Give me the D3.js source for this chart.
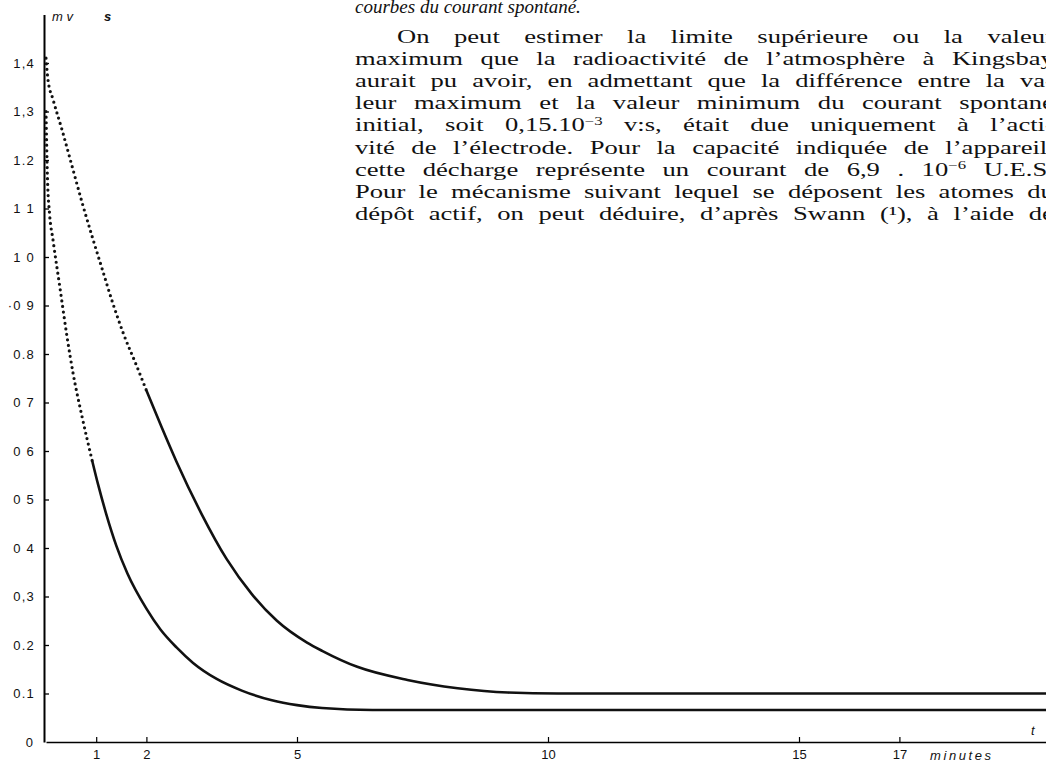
<!DOCTYPE html>
<html>
<head>
<meta charset="utf-8">
<script src="https://cdn.jsdelivr.net/npm/d3@7"></script>
<style>
    body { margin: 0; background: #fff; }
    .axe-label { font-family: 'Liberation Sans', 'DejaVu Sans', sans-serif; font-size: 13px; fill: #111; }
    .page-text { font-family: 'Liberation Serif', 'DejaVu Serif', serif; font-size: 19px; fill: #111; }
</style>
</head>
<body>
<svg class="chart"></svg>
<script>
const width = 1046
const height = 761

// time in minutes, values in mv:s
const upperTime = [0, 0.04, 0.14, 0.32, 0.52, 0.72, 0.92, 1.12, 1.33, 1.55, 1.8, 2.0, 2.3, 2.6, 3.1, 3.6, 4.1, 4.6, 5.2, 5.5, 6.2, 7.2, 8.2, 9.2, 10.2, 14, 20]
const upperValues = [1.41, 1.365, 1.325, 1.262, 1.187, 1.112, 1.042, 0.975, 0.905, 0.84, 0.777, 0.725, 0.65, 0.578, 0.47, 0.377, 0.305, 0.25, 0.205, 0.188, 0.155, 0.128, 0.111, 0.102, 0.1, 0.1, 0.1]
const upperDottedUntil = 2.0

const lowerTime = [0, 0.03, 0.07, 0.14, 0.28, 0.42, 0.54, 0.72, 0.92, 1.04, 1.2, 1.4, 1.62, 2.0, 2.28, 2.6, 2.93, 3.4, 3.9, 4.5, 5.0, 5.5, 6.5, 8, 10, 14, 20]
const lowerValues = [1.30, 1.16, 1.09, 1.035, 0.935, 0.835, 0.76, 0.67, 0.58, 0.53, 0.47, 0.405, 0.348, 0.275, 0.232, 0.195, 0.163, 0.13, 0.106, 0.086, 0.076, 0.07, 0.066, 0.066, 0.066, 0.066, 0.066]
const lowerDottedUntil = 0.92

const yTicks = [0.1, 0.2, 0.3, 0.4, 0.5, 0.6, 0.7, 0.8, 0.9, 1.0, 1.1, 1.2, 1.3, 1.4]
const yTickLabels = ['0.1', '0.2', '0,3', '0 4', '0 5', '0 6', '0 7', '0.8', '·0 9', '1 0', '1 1', '1.2', '1,3', '1,4']
const xTicks = [1, 2, 5, 10, 15, 17]
const xTickLabels = ['1', '2', '5', '10', '15', '17']

// ^...^ marks a superscript
const pageLines = [
    'On peut estimer la limite supérieure ou la valeur',
    'maximum que la radioactivité de l’atmosphère à Kingsbay',
    'aurait pu avoir, en admettant que la différence entre la va-',
    'leur maximum et la valeur minimum du courant spontané',
    'initial, soit 0,15.10^−3^ v:s, était due uniquement à l’acti-',
    'vité de l’électrode. Pour la capacité indiquée de l’appareil,',
    'cette décharge représente un courant de 6,9 . 10^−6^ U.E.S.',
    'Pour le mécanisme suivant lequel se déposent les atomes du',
    'dépôt actif, on peut déduire, d’après Swann (¹), à l’aide de'
]
const captionEnd = 'courbes du courant spontané.'

const svg = d3.select('.chart').attr('width', width).attr('height', height)

const x = d3.scaleLinear().domain([0, 20]).range([46, 1050])
const y = d3.scaleLinear().domain([0, 1.5]).range([742, 14.5])

const drawAxes = () => {
    const yAxis = svg.append('g')
        .attr('transform', `translate(${x(0) - 2},0)`)
        .call(d3.axisLeft(y)
            .tickValues(yTicks)
            .tickSize(-5)
            .tickSizeOuter(0)
            .tickPadding(9)
            .tickFormat((d, i) => yTickLabels[i]))
    yAxis.select('.domain').attr('stroke-width', 2)
    yAxis.selectAll('.tick line').attr('stroke-width', 1.3)
    yAxis.selectAll('text')
        .attr('class', 'axe-label')
        .attr('font-size', null).attr('font-family', null)
        .attr('letter-spacing', 1.2)

    svg.append('text')
        .attr('class', 'axe-label')
        .attr('x', 33).attr('y', 747)
        .attr('text-anchor', 'end')
        .text('0')

    const xAxis = svg.append('g')
        .attr('transform', `translate(0,${y(0)})`)
        .call(d3.axisBottom(x)
            .tickValues(xTicks)
            .tickSize(-5)
            .tickSizeOuter(0)
            .tickPadding(8)
            .tickFormat((d, i) => xTickLabels[i]))
    xAxis.select('.domain').attr('stroke-width', 1.6)
    xAxis.selectAll('.tick line').attr('stroke-width', 1.2)
    xAxis.selectAll('text').attr('class', 'axe-label').attr('font-size', null).attr('font-family', null)

    svg.append('text')
        .attr('class', 'axe-label')
        .attr('x', 930).attr('y', 760)
        .attr('font-style', 'italic')
        .attr('font-size', 15)
        .attr('letter-spacing', 2.6)
        .text('minutes')

    svg.append('text')
        .attr('class', 'axe-label')
        .attr('x', 1031).attr('y', 735)
        .attr('font-style', 'italic')
        .attr('font-size', 19)
        .text('t')

    const unit = svg.append('text')
        .attr('class', 'axe-label')
        .attr('x', 52).attr('y', 21)
        .attr('font-style', 'italic')
        .attr('font-size', 14)
    unit.append('tspan').text('m v')
    unit.append('tspan').attr('x', 104).attr('font-weight', 'bold').text('s')
}

const drawCurve = (times, values, dottedUntil) => {
    const points = times.map((t, i) => [t, values[i]])
    const line = d3.line()
        .x(d => x(d[0]))
        .y(d => y(d[1]))
        .curve(d3.curveMonotoneX)

    svg.append('path')
        .datum(points.filter(d => d[0] <= dottedUntil))
        .attr('fill', 'none')
        .attr('stroke', '#111')
        .attr('stroke-width', 3.2)
        .attr('stroke-linecap', 'round')
        .attr('stroke-dasharray', '0 5.6')
        .attr('d', line)

    svg.append('path')
        .datum(points.filter(d => d[0] >= dottedUntil))
        .attr('fill', 'none')
        .attr('stroke', '#111')
        .attr('stroke-width', 2.6)
        .attr('d', line)
}

const addLine = (str, xPos, yPos) => {
    const text = svg.append('text')
        .attr('class', 'page-text')
        .attr('transform', `translate(${xPos},${yPos})`)
    str.split('^').forEach((part, i) => {
        if (!part) return
        const span = text.append('tspan').text(part)
        if (i % 2 === 1) span.attr('font-size', 12).attr('baseline-shift', 'super')
    })
    return text
}

const drawPageText = () => {
    addLine(captionEnd, 355, 13).attr('font-style', 'italic')

    // the printed face is much wider than Times: stretch it, then justify
    const rightEdge = 1054
    pageLines.forEach((str, i) => {
        const xPos = i === 0 ? 397 : 355
        const yPos = 43 + i * 22.1
        const text = addLine(str, xPos, yPos)
        const natural = text.node().getComputedTextLength()
        const spaces = (str.match(/ /g) || []).length
        let sx = 1.4
        let ws = ((rightEdge - xPos) / sx - natural) / spaces
        if (ws < 0) { sx = (rightEdge - xPos) / natural; ws = 0 }
        text.attr('transform', `translate(${xPos},${yPos}) scale(${sx},1)`)
            .attr('word-spacing', ws)
    })
}

drawPageText()
drawAxes()
drawCurve(upperTime, upperValues, upperDottedUntil)
drawCurve(lowerTime, lowerValues, lowerDottedUntil)
</script>
</body>
</html>
